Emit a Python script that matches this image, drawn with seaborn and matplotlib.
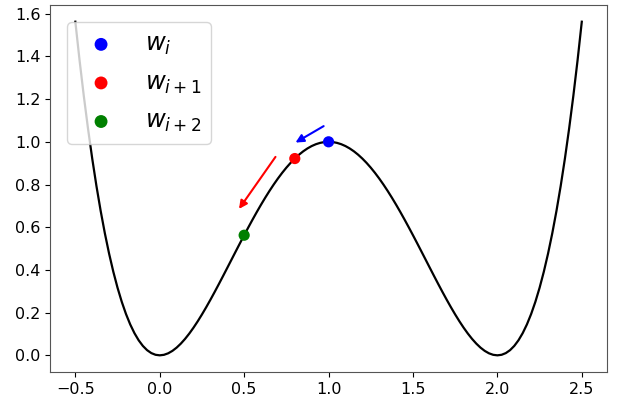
import numpy as np
import matplotlib
matplotlib.use("Agg")
import matplotlib.pyplot as plt
import seaborn as sns

# curve values; the curve is mirror-symmetric about x = 1,
# so keep one half (x = 1.0 .. 2.5, step 0.025) and mirror it
half_curve = [1.0, 0.99875, 0.995, 0.98878, 0.9801, 0.96899, 0.9555, 0.93969, 0.9216, 0.90131,
              0.87891, 0.85447, 0.8281, 0.79991, 0.77001, 0.73853, 0.7056, 0.67138, 0.63601, 0.59966,
              0.5625, 0.52472, 0.48651, 0.44806, 0.4096, 0.37134, 0.33351, 0.29634, 0.2601, 0.22503,
              0.19141, 0.1595, 0.1296, 0.102, 0.07701, 0.05493, 0.0361, 0.02084, 0.00951, 0.00244,
              0.0, 0.00256, 0.01051, 0.02422, 0.0441, 0.07056, 0.10401, 0.14488, 0.1936, 0.25063,
              0.31641, 0.39141, 0.4761, 0.57097, 0.67651, 0.79321, 0.9216, 1.06219, 1.21551, 1.38209,
              1.5625]
y_curve = half_curve[::-1] + half_curve[1:]
x_curve = np.round(np.linspace(-0.5, 2.5, len(y_curve)), 3)

# iterates
point_x = [1.0, 0.8, 0.5]
point_y = [1.0, 0.9216, 0.5625]
point_labels = [r'$w_i$', r'$w_{i+1}$', r'$w_{i+2}$']
point_colors = ['blue', 'red', 'green']

# step arrows (tail, head)
arrow_tails = [(0.985, 1.08), (0.695, 0.94)]
arrow_heads = [(0.79, 0.99), (0.46, 0.675)]
arrow_colors = ['blue', 'red']

fig = plt.figure(figsize=(6.19, 4.08), dpi=100)
ax = fig.add_axes([0.0808, 0.0882, 0.900, 0.8995])

sns.lineplot(x=x_curve, y=y_curve, color='black', linewidth=1.6, ax=ax)

for px, py, lab, c in zip(point_x, point_y, point_labels, point_colors):
    sns.scatterplot(x=[px], y=[py], color=c, s=65, edgecolor='none', label=lab, ax=ax, zorder=3)

for t, h, c in zip(arrow_tails, arrow_heads, arrow_colors):
    ax.annotate('', xy=h, xytext=t,
                arrowprops=dict(arrowstyle='-|>', color=c, lw=1.5, mutation_scale=12))

ax.tick_params(labelsize=11.5)
for s in ax.spines.values():
    s.set_color('#555555')
ax.legend(loc='upper left', fontsize=17.5, labelspacing=0.55, handletextpad=0.8,
          markerscale=1.15, borderaxespad=0.7)

fig.savefig('out.png', dpi=100)
